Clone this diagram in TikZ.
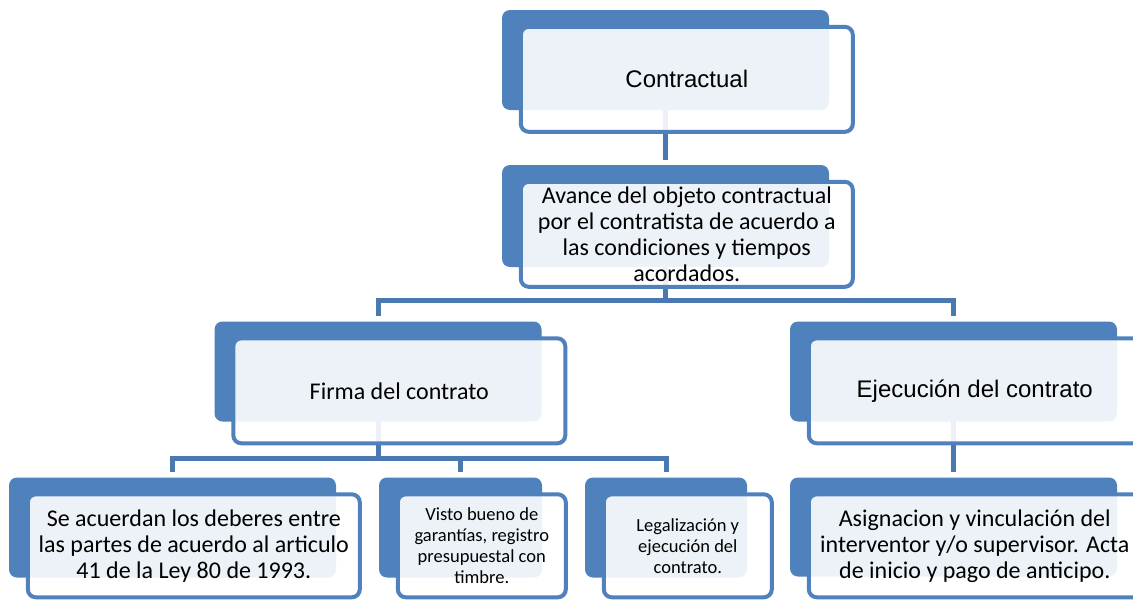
\documentclass[tikz,border=0pt]{standalone}
\usepackage{fontspec}
\setmainfont{Carlito}
\newfontfamily\arial{Liberation Sans}
\usetikzlibrary{positioning,backgrounds}
\definecolor{azul}{HTML}{4F81BD}
\definecolor{azulc}{HTML}{4A78B0}

\begin{document}
\begin{tikzpicture}[x=1pt,y=-1pt,thin]
\tikzstyle{fondo}=[fill=azul,rounded corners=8pt,inner sep=0pt,minimum width=327pt,minimum height=100pt]
\tikzstyle{caja}=[draw=azul,line width=4pt,fill=white,fill opacity=0.9,text opacity=1,text=black,rounded corners=8pt,inner sep=0pt,minimum width=332pt,minimum height=105pt,align=center,anchor=north west,font=\fontsize{24}{26}\selectfont]
\tikzstyle{chica}=[minimum width=168pt,font=\fontsize{18.5}{21}\selectfont]
\tikzstyle{linea}=[draw=azulc,line width=5pt]

\useasboundingbox (0,0) rectangle (1133,600);

% cajas de fondo
\node[fondo]  (Cf) at (665.5,60) {};
\node[fondo]  (Af) [below of=Cf,node distance=156pt,minimum height=102pt] {};
\node[fondo]  (Ff) at (378,371.5) {};
\node[fondo]  (Ef) [right of=Ff,node distance=575.5pt] {};
\node[fondo]  (Sf) at (172.5,527.5) {};
\node[fondo]  (Vf) [right of=Sf,node distance=288pt,minimum width=163pt] {};
\node[fondo]  (Lf) [right of=Vf,node distance=205.5pt,minimum width=162pt] {};
\node[fondo]  (Gf) [below of=Ef,node distance=155.5pt,minimum height=99pt] {};

% cajas con texto
\node[caja]   (C) at ([shift={(17,15)}]Cf.north west) {\arial Contractual};
\node[caja]   (A) at ([shift={(17,15)}]Af.north west) {Avance del objeto contractual\\por el contratista de acuerdo a\\las condiciones y tiempos\\acordados.};
\node[caja]   (F) at ([shift={(17,15)}]Ff.north west) {Firma del contrato};
\node[caja]   (E) at ([shift={(17,15)}]Ef.north west) {\arial Ejecución del contrato};
\node[caja,minimum height=103pt]   (S) at ([shift={(17,15)}]Sf.north west) {Se acuerdan los deberes entre\\las partes de acuerdo al articulo\\41 de la Ley 80 de 1993.};
\node[caja,chica,minimum height=103pt]   (V) at ([shift={(17,15)}]Vf.north west) {Visto bueno de\\garantías, registro\\presupuestal con\\timbre.};
\node[caja,chica,minimum height=103pt]   (L) at ([shift={(17,15)}]Lf.north west) {Legalización y\\ejecución del\\contrato.};
\node[caja,minimum height=103pt]   (G) at ([shift={(17,15)}]Gf.north west) {Asignacion y vinculación del\\interventor y/o supervisor. Acta\\de inicio y pago de anticipo.};

% conectores
\begin{scope}[on background layer]
\fill[white] (0,0) rectangle (1133,600);
\draw[linea] (Cf.center) -- ([yshift=5pt]Af.north);
\draw[linea] (Af.center) -- ++(0,84) -| ([yshift=5pt]Ff.north);
\draw[linea] (Af.center) -- ++(0,84) -| ([yshift=5pt]Ef.north);
\draw[linea] (Ff.center) -- ++(0,86.5) -| ([yshift=5pt]Sf.north);
\draw[linea] (Ff.center) -- ++(0,86.5) -| ([yshift=5pt]Vf.north);
\draw[linea] (Ff.center) -- ++(0,86.5) -| ([yshift=5pt]Lf.north);
\draw[linea] (Ef.center) -- ([yshift=5pt]Gf.north);
\end{scope}
\end{tikzpicture}
\end{document}
